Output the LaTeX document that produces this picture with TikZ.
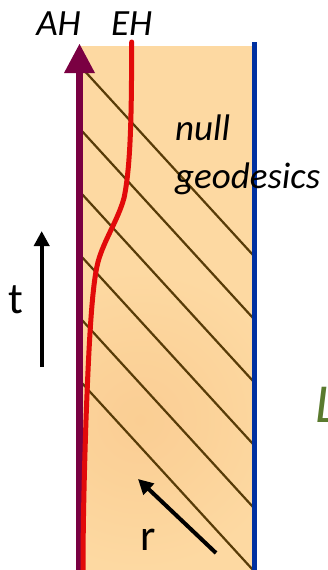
\documentclass[tikz,border=0pt]{standalone}
\usepackage{fontspec}
\setmainfont{Carlito}
\usetikzlibrary{arrows.meta}
\definecolor{bgorange}{RGB}{253,217,162}
\definecolor{bgdark}{RGB}{250,205,146}
\definecolor{hatch}{RGB}{88,60,8}
\definecolor{ahpurple}{RGB}{122,0,66}
\definecolor{ehred}{RGB}{226,10,10}
\definecolor{bndblue}{RGB}{0,48,160}
\definecolor{olive}{RGB}{90,122,46}
\tikzset{
  hatchline/.style={draw=hatch, line width=2.2pt},
  lbl/.style={inner sep=0pt, anchor=base, font=\fontsize{37}{44}\selectfont\itshape},
  axlbl/.style={inner sep=0pt, anchor=base, font=\fontsize{44}{52}\selectfont},
  axarrow/.style={draw=black, line width=4pt, -{Triangle[width=15pt,length=15pt]}}
}
\begin{document}
\begin{tikzpicture}[x=1pt,y=-1pt]
\useasboundingbox (0,0) rectangle (327,570);
% background region
\begin{scope}
\clip (79,46) rectangle (255,570);
\fill[bgorange] (79,46) rectangle (255,570);
\shade[inner color=bgdark, outer color=bgorange, opacity=0.9] (140,420) circle (150);
\end{scope}
% null geodesics
\foreach \s in {67,130,193,256,319,382}{
  \draw[hatchline] (81,\s) -- ++(172,188);
}
% outer boundary
\coordinate (blueTop) at (254.5,42);
\coordinate (blueBot) at (254.5,570);
\draw[bndblue, line width=4.5pt] (blueTop) -- (blueBot);
% apparent horizon
\coordinate (ahBot) at (79.5,570);
\coordinate (ahHead) at (79.5,72);
\draw[ahpurple, line width=6.5pt] (ahBot) -- (ahHead);
\fill[ahpurple] (64,73) -- (79.5,44) -- (95,73) -- cycle;
% event horizon
\draw[ehred, line width=5pt, line cap=round]
  (131.7,42) .. controls (131.5,110) and (131,165) .. (124,198)
  .. controls (118,220) and (104,240) .. (98,262)
  .. controls (92,285) and (89,340) .. (86,420)
  .. controls (84,480) and (83,530) .. (83,570);
% labels
\node[lbl] (AH) at (58.5,35) {AH};
\node[lbl] (EH) at (131.7,35) {EH};
\node[lbl, anchor=base west] (null) at (175,140) {null};
\node[lbl, anchor=base west] (geo) at (175,188) {geodesics};
% t axis
\coordinate (tTail) at (41.7,367);
\coordinate (tTip) at (41.7,231);
\draw[axarrow] (tTail) -- (tTip);
\node[axlbl] (t) at (16,313) {t};
% r axis
\coordinate (rTail) at (216,553);
\coordinate (rTip) at (138,479);
\draw[axarrow] (rTail) -- (rTip);
\node[axlbl] (r) at (148.6,550) {r};
% label cut off at the right edge, as in the reference
\node[inner sep=0pt, anchor=base west, text=olive, font=\fontsize{55}{60}\selectfont\itshape] (L) at (315,422) {L};
\end{tikzpicture}
\end{document}
